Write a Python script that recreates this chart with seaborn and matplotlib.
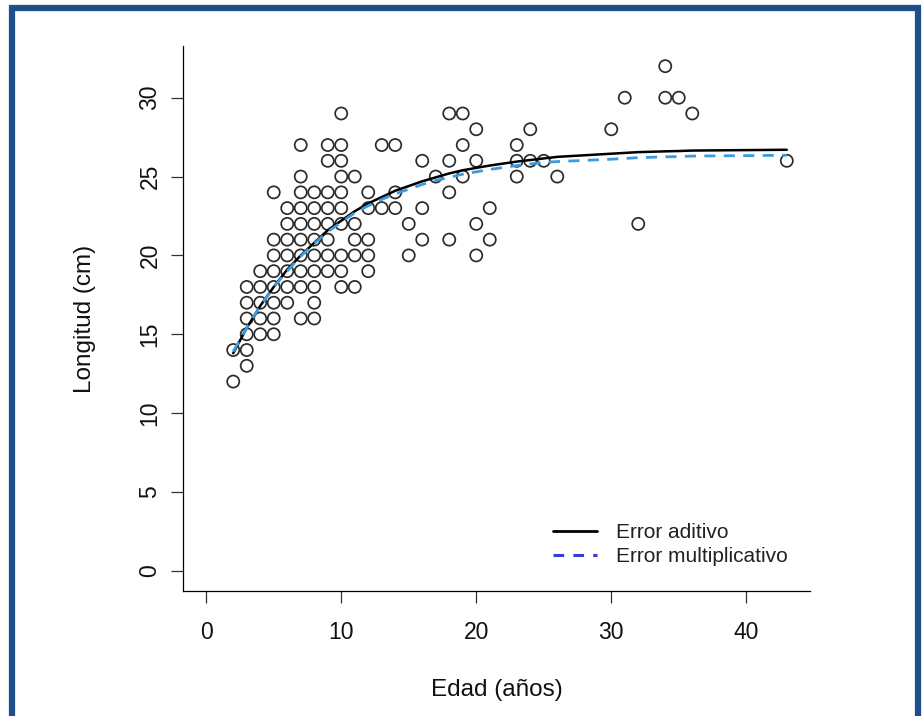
import numpy as np
import pandas as pd
import matplotlib
matplotlib.use("Agg")
import matplotlib.pyplot as plt
import seaborn as sns
from matplotlib.lines import Line2D
from matplotlib.patches import Rectangle

# ------------------------------------------
# Data
# ------------------------------------------
edad = [2, 2,
        3, 3, 3, 3, 3, 3,
        4, 4, 4, 4, 4,
        5, 5, 5, 5, 5, 5, 5, 5,
        6, 6, 6, 6, 6, 6, 6,
        7, 7, 7, 7, 7, 7, 7, 7, 7, 7,
        8, 8, 8, 8, 8, 8, 8, 8, 8,
        9, 9, 9, 9, 9, 9, 9, 9,
        10, 10, 10, 10, 10, 10, 10, 10, 10, 10,
        11, 11, 11, 11, 11,
        12, 12, 12, 12, 12,
        13, 13,
        14, 14, 14,
        15, 15,
        16, 16, 16,
        17,
        18, 18, 18, 18,
        19, 19, 19,
        20, 20, 20, 20,
        21, 21,
        23, 23, 23,
        24, 24,
        25,
        26,
        30, 31, 32, 34, 34, 35, 36, 43]

longitud = [12, 14,
            13, 14, 15, 16, 17, 18,
            15, 16, 17, 18, 19,
            15, 16, 17, 18, 19, 20, 21, 24,
            17, 18, 19, 20, 21, 22, 23,
            16, 18, 19, 20, 21, 22, 23, 24, 25, 27,
            16, 17, 18, 19, 20, 21, 22, 23, 24,
            19, 20, 21, 22, 23, 24, 26, 27,
            18, 19, 20, 22, 23, 24, 25, 26, 27, 29,
            18, 20, 21, 22, 25,
            19, 20, 21, 23, 24,
            23, 27,
            23, 24, 27,
            20, 22,
            21, 23, 26,
            25,
            21, 24, 26, 29,
            25, 27, 29,
            20, 22, 26, 28,
            21, 23,
            25, 26, 27,
            26, 28,
            26,
            25,
            28, 30, 22, 30, 32, 30, 29, 26]

# fitted curves (values at the observed ages)
edad_ajuste = [2, 3, 4, 5, 6, 7, 8, 9, 10, 11, 12, 13, 14, 15, 16, 17, 18,
               19, 20, 21, 23, 24, 25, 26, 30, 31, 32, 34, 35, 36, 43]
aditivo = [13.8, 15.4, 16.8, 18.0, 19.1, 20.0, 20.8, 21.6, 22.2, 22.8, 23.3,
           23.7, 24.1, 24.4, 24.7, 24.95, 25.2, 25.4, 25.55, 25.7, 25.95,
           26.05, 26.15, 26.25, 26.45, 26.5, 26.55, 26.6, 26.62, 26.65, 26.7]
multiplicativo = [13.9, 15.4, 16.8, 18.0, 19.0, 19.95, 20.75, 21.5, 22.1,
                  22.7, 23.15, 23.55, 23.9, 24.2, 24.5, 24.75, 24.95, 25.15,
                  25.3, 25.45, 25.7, 25.8, 25.9, 25.95, 26.1, 26.15, 26.2,
                  26.25, 26.27, 26.3, 26.35]

x_ticks = [0, 10, 20, 30, 40]
y_ticks = [0, 5, 10, 15, 20, 25, 30]

df = pd.DataFrame({"Edad": edad, "Longitud": longitud})
fit = pd.DataFrame({"Edad": edad_ajuste, "Aditivo": aditivo,
                    "Multiplicativo": multiplicativo})

# ------------------------------------------
# Style
# ------------------------------------------
sns.set_style("ticks")
plt.rcParams["font.family"] = ["Liberation Sans", "DejaVu Sans"]

fig = plt.figure(figsize=(9.23, 7.16), dpi=100)
W, H = 923, 716
ax = fig.add_axes([183 / W, 125 / H, 627 / W, 545 / H])

# ------------------------------------------
# Plot
# ------------------------------------------
sns.scatterplot(data=df, x="Edad", y="Longitud", ax=ax, marker="o", s=76,
                facecolor="none", edgecolor="#2b2b2b", linewidth=1.25,
                zorder=2)
sns.lineplot(data=fit, x="Edad", y="Aditivo", ax=ax, color="black",
             linewidth=1.8, zorder=3)
sns.lineplot(data=fit, x="Edad", y="Multiplicativo", ax=ax, color="#3a9be0",
             linewidth=2.0, linestyle=(0, (4, 3)), zorder=3)

ax.set_xlim(-1.72, 44.72)
ax.set_ylim(-1.28, 33.28)
ax.set_xticks(x_ticks)
ax.set_yticks(y_ticks)

for s in ["top", "right"]:
    ax.spines[s].set_visible(False)
for s in ["left", "bottom"]:
    ax.spines[s].set_color("black")
    ax.spines[s].set_linewidth(0.9)

ax.tick_params(axis="both", direction="out", length=8.5, width=0.9,
               color="#333333", labelsize=16.5, labelcolor="#111111",
               bottom=True, left=True)
ax.tick_params(axis="x", pad=13)
ax.tick_params(axis="y", pad=7)
for lab in ax.get_yticklabels():
    lab.set_rotation(90)
    lab.set_va("center")

ax.set_xlabel("Edad (años)", fontsize=17.5, color="#111111")
ax.set_ylabel("Longitud (cm)", fontsize=17.5, color="#111111")
ax.xaxis.label.set_va("center")
ax.yaxis.label.set_va("center")
ax.xaxis.set_label_coords(0.5, (H - 690 - 125) / 545)
ax.yaxis.set_label_coords((85 - 183) / 627, 0.5)

handles = [Line2D([], [], color="black", linewidth=2.0),
           Line2D([], [], color="#3a3ad8", linewidth=2.2,
                  linestyle=(0, (3.5, 3)))]
ax.legend(handles, ["Error aditivo", "Error multiplicativo"],
          loc="upper left", bbox_to_anchor=(553 / W, (H - 523) / H),
          bbox_transform=fig.transFigure, frameon=False, fontsize=15,
          handlelength=2.1, handletextpad=0.9, borderpad=0,
          borderaxespad=0, labelspacing=0.25, labelcolor="#222222")

# blue frame around the picture
fig.add_artist(Rectangle((12 / W, -0.05), (917.5 - 12) / W, 1.05 - 7.5 / H,
                         transform=fig.transFigure, fill=False,
                         edgecolor="#1f4e8a", linewidth=4.5, clip_on=False))

fig.savefig("out.png", dpi=100, facecolor="white")
